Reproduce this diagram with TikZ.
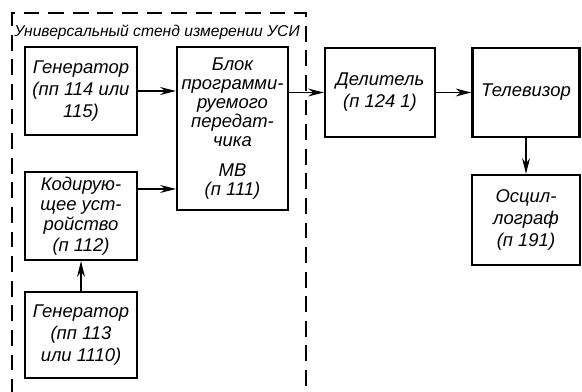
\documentclass[tikz,border=0pt]{standalone}
\usepackage{fontspec}
\setmainfont{Liberation Sans}
\usetikzlibrary{calc,arrows.meta}

\tikzset{
  blk/.style={draw, line width=1.2pt, align=center, inner sep=1pt,
    font=\itshape\fontsize{10.5}{12.5}\selectfont},
  conn/.style={line width=.7pt, -{Stealth[length=9pt,width=4.5pt]}}
}

\begin{document}
\begin{tikzpicture}[x=0.02cm, y=-0.02cm]
  \useasboundingbox (0,0) rectangle (582,392);

  \draw[dash pattern=on 9pt off 5pt, line width=.8pt]
    (12,395) -- (12,13) -- (306,13) -- (306,395);
  \node (title) [anchor=west, inner sep=0pt,
    font=\itshape\fontsize{8.9}{9}\selectfont] at (14,32)
    {Универсальный стенд измерении УСИ};

  \node (gen1) [blk, minimum width=112*0.02cm, minimum height=88*0.02cm]
    at (81,91) {Генератор\\(пп 114 или\\115)};
  \node (prog) [blk, minimum width=111*0.02cm, minimum height=163*0.02cm,
    font=\itshape\fontsize{10.5}{10.8}\selectfont]
    at (232.5,128.5) {Блок\\программи-\\руемого\\передат-\\чика\\[6pt]МВ\\(п 111)};
  \node (coder) [blk, minimum width=112*0.02cm, minimum height=88*0.02cm,
    font=\itshape\fontsize{10.5}{11.6}\selectfont]
    at (81,216) {Кодирую-\\щее уст-\\ройство\\(п 112)};
  \node (gen2) [blk, minimum width=112*0.02cm, minimum height=86*0.02cm]
    at (81,335) {Генератор\\(пп 113\\или 1110)};

  \node (div) [blk, minimum width=110*0.02cm, minimum height=89*0.02cm]
    at (380,92.5) {Делитель\\(п 124 1)};
  \node (tv) [blk, minimum width=107*0.02cm, minimum height=89*0.02cm]
    at (526,92.5) {Телевизор};
  \node (osc) [blk, minimum width=108*0.02cm, minimum height=90*0.02cm]
    at (526,220) {Осцил-\\лограф\\(п 191)};

  \coordinate (c1) at ($(coder.north east)!.2!(coder.south east)$);

  \draw[conn] (gen1.east) -- (gen1.east -| prog.west);
  \draw[conn] (c1) -- (c1 -| prog.west);
  \draw[conn] (gen2) -- (coder);
  \draw[conn] (div.west -| prog.east) -- (div.west);
  \draw[conn] (div) -- (tv);
  \draw[conn] (tv) -- (osc);
\end{tikzpicture}
\end{document}
